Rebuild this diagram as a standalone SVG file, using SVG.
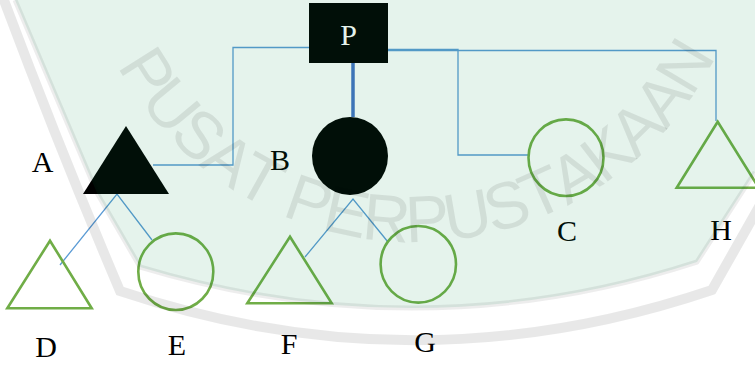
<svg xmlns="http://www.w3.org/2000/svg" width="755" height="365" viewBox="0 0 755 365">
<defs>
<style>
.lbl{font-family:"Liberation Serif","Times New Roman",serif;font-size:30px;fill:#000;text-anchor:middle}
.solid{fill:#000;stroke:none}
.open{fill:none;stroke:#70ad47;stroke-width:2.6}
.con{fill:none;stroke:#5b9bd5;stroke-width:1.3}
.thick{fill:none;stroke:#4472c4;stroke-width:3.5}
.wm{font-family:"Liberation Sans",Arial,sans-serif;font-size:66px;fill:#000;fill-opacity:0.085;text-anchor:middle}
</style>
</defs>
<rect width="755" height="365" fill="#fff"/>
<g id="connectors">
<polyline class="con" points="312,47.5 233,47.5 233,165 153,165"/>
<polyline class="con" points="388,49.5 458,49.5 458,155 528,155"/>
<polyline class="con" points="388,50.5 716,50.5 716,121"/>
<line class="thick" x1="353" y1="63" x2="353" y2="117"/>
<polyline class="con" points="60,265 117,194 152,240"/>
<polyline class="con" points="305,257 353,199 388,242"/>
</g>
<g id="node-P"><rect class="solid" x="309" y="3" width="79" height="60"/><text class="lbl" x="348.5" y="45" style="fill:#fff">P</text></g>
<g id="node-A"><polygon class="solid" points="126,126 83,194 169,194"/><text class="lbl" x="42.5" y="172">A</text></g>
<g id="node-B"><ellipse class="solid" cx="350" cy="156" rx="38" ry="39"/><text class="lbl" x="280" y="170">B</text></g>
<g id="node-C"><ellipse class="open" cx="566" cy="157.7" rx="37.5" ry="38.3"/><text class="lbl" x="567" y="240.5">C</text></g>
<g id="node-H"><polygon class="open" points="717.7,121.7 676.7,187.7 758.7,187.7"/><text class="lbl" x="721" y="240">H</text></g>
<g id="node-D"><polygon class="open" points="50,240.7 7.3,308.3 91.7,308.3"/><text class="lbl" x="46" y="357">D</text></g>
<g id="node-E"><ellipse class="open" cx="175.8" cy="271.7" rx="37.5" ry="38.3"/><text class="lbl" x="177" y="355">E</text></g>
<g id="node-F"><polygon class="open" points="290,236.7 247.3,303.3 331.7,303.3"/><text class="lbl" x="289" y="354">F</text></g>
<g id="node-G"><ellipse class="open" cx="418.3" cy="264.3" rx="37.7" ry="38.3"/><text class="lbl" x="425" y="352">G</text></g>
<g id="watermark" pointer-events="none">
<path d="M 15,0 L 97,193 L 140,267 Q 421.5,351.5 697,262 L 755,172 L 755,0 Z" fill="rgb(9,141,75)" fill-opacity="0.106"/>
<path d="M 15,0 L 97,193 L 140,267 Q 421.5,351.5 697,262 L 755,172" fill="none" stroke="#000" stroke-opacity="0.07" stroke-width="5"/>
<path d="M 2,-5 Q 60,150 120,291 Q 416,390 712,290 L 760,205" fill="none" stroke="#000" stroke-opacity="0.09" stroke-width="10"/>
<text class="wm" transform="translate(128.4,84.8) rotate(57.67)">P</text>
<text class="wm" transform="translate(153.9,119.8) rotate(50.31)">U</text>
<text class="wm" transform="translate(183.8,151.5) rotate(42.95)">S</text>
<text class="wm" transform="translate(215.9,177.9) rotate(35.88)">A</text>
<text class="wm" transform="translate(249.6,199.3) rotate(29.11)">T</text>
<text class="wm" transform="translate(301.8,222.8) rotate(19.39)">P</text>
<text class="wm" transform="translate(341.9,234.2) rotate(12.32)">E</text>
<text class="wm" transform="translate(384.7,240.7) rotate(4.97)">R</text>
<text class="wm" transform="translate(428.1,241.7) rotate(-2.39)">P</text>
<text class="wm" transform="translate(471.3,237.1) rotate(-9.75)">U</text>
<text class="wm" transform="translate(513.4,227.0) rotate(-17.11)">S</text>
<text class="wm" transform="translate(550.8,213.1) rotate(-23.88)">T</text>
<text class="wm" transform="translate(586.3,194.7) rotate(-30.65)">A</text>
<text class="wm" transform="translate(620.8,171.4) rotate(-37.72)">K</text>
<text class="wm" transform="translate(652.1,143.9) rotate(-44.79)">A</text>
<text class="wm" transform="translate(679.8,112.7) rotate(-51.86)">A</text>
<text class="wm" transform="translate(704.3,77.1) rotate(-59.21)">N</text>
</g>
</svg>
